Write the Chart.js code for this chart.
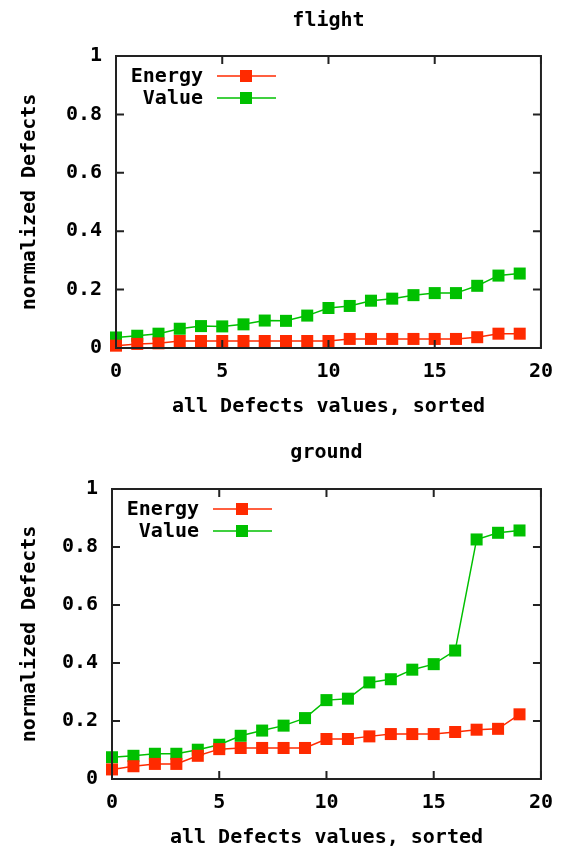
<!DOCTYPE html>
<html>
<head>
<meta charset="utf-8">
<script src="https://cdn.jsdelivr.net/npm/chart.js@4.4.0/dist/chart.umd.min.js"></script>
<style>
  html, body { margin: 0; padding: 0; background: #fff; overflow: hidden; }
  .box { position: absolute; left: 0; width: 565px; }
</style>
</head>
<body>
<div class="box" style="top:0;height:430px"><canvas id="chartFlight" width="565" height="430"></canvas></div>
<div class="box" style="top:430px;height:431px"><canvas id="chartGround" width="565" height="431"></canvas></div>
<script>
// sorted defect index, 0..19
const positions = [0, 1, 2, 3, 4, 5, 6, 7, 8, 9, 10, 11, 12, 13, 14, 15, 16, 17, 18, 19];

const flightEnergy = [0.008, 0.014, 0.016, 0.024, 0.024, 0.024, 0.024, 0.024, 0.024, 0.024,
                      0.024, 0.031, 0.031, 0.031, 0.031, 0.031, 0.031, 0.037, 0.049, 0.049];
const flightValue  = [0.036, 0.042, 0.049, 0.066, 0.075, 0.074, 0.081, 0.094, 0.093, 0.111,
                      0.137, 0.144, 0.162, 0.169, 0.181, 0.188, 0.188, 0.213, 0.248, 0.255];

const groundEnergy = [0.033, 0.044, 0.052, 0.052, 0.080, 0.103, 0.107, 0.107, 0.107, 0.107,
                      0.138, 0.138, 0.147, 0.155, 0.155, 0.155, 0.162, 0.170, 0.173, 0.223];
const groundValue  = [0.075, 0.080, 0.087, 0.087, 0.101, 0.118, 0.149, 0.167, 0.184, 0.210,
                      0.272, 0.277, 0.333, 0.344, 0.377, 0.396, 0.443, 0.826, 0.849, 0.857];

const xTicks = [0, 5, 10, 15, 20];
const yTicks = [0, 0.2, 0.4, 0.6, 0.8, 1];

const RED = "#ff2a00";
const GREEN = "#00c000";
const FONT = { family: "'DejaVu Sans Mono', monospace", size: 20, weight: "bold", lineHeight: 1.2 };

const toPoints = (ys) => positions.map((x, i) => ({ x: x, y: ys[i] }));

// box around the plot with inward ticks on all four sides
const framePlugin = {
    id: "frame",
    afterDatasetsDraw(chart) {
        const { ctx, chartArea: a, scales } = chart;
        const len = 8;
        ctx.save();
        ctx.strokeStyle = "#222";
        ctx.lineWidth = 2;
        ctx.strokeRect(a.left, a.top, a.right - a.left, a.bottom - a.top);
        ctx.beginPath();
        xTicks.forEach(v => {
            const px = scales.x.getPixelForValue(v);
            ctx.moveTo(px, a.bottom); ctx.lineTo(px, a.bottom - len);
            ctx.moveTo(px, a.top); ctx.lineTo(px, a.top + len);
        });
        yTicks.forEach(v => {
            const py = scales.y.getPixelForValue(v);
            ctx.moveTo(a.left, py); ctx.lineTo(a.left + len, py);
            ctx.moveTo(a.right, py); ctx.lineTo(a.right - len, py);
        });
        ctx.stroke();
        ctx.restore();
    }
};

// key in the upper left: label right-aligned, then line sample with marker
const keyPlugin = {
    id: "key",
    afterDraw(chart) {
        const { ctx, chartArea: a } = chart;
        ctx.save();
        ctx.font = "bold 20px 'DejaVu Sans Mono', monospace";
        ctx.textAlign = "right";
        ctx.textBaseline = "middle";
        chart.data.datasets.forEach((ds, i) => {
            const y = a.top + 20 + i * 22;
            ctx.fillStyle = "#000";
            ctx.fillText(ds.label, a.left + 87, y + 1);
            ctx.strokeStyle = ds.borderColor;
            ctx.lineWidth = 1.5;
            ctx.beginPath();
            ctx.moveTo(a.left + 101, y);
            ctx.lineTo(a.left + 160, y);
            ctx.stroke();
            ctx.fillStyle = ds.backgroundColor;
            ctx.fillRect(a.left + 124, y - 6, 12, 12);
        });
        ctx.restore();
    }
};

function makeChart(id, title, energy, value, dims) {
    const el = document.getElementById(id).getContext("2d");
    return new Chart(el, {
        type: "line",
        data: {
            datasets: [
                {
                    label: "Energy",
                    data: toPoints(energy),
                    borderColor: RED,
                    backgroundColor: RED,
                    borderWidth: 1.5,
                    pointStyle: "rect",
                    pointRadius: 8.5,
                    pointBorderWidth: 0,
                    clip: false
                },
                {
                    label: "Value",
                    data: toPoints(value),
                    borderColor: GREEN,
                    backgroundColor: GREEN,
                    borderWidth: 1.5,
                    pointStyle: "rect",
                    pointRadius: 8.5,
                    pointBorderWidth: 0,
                    clip: false
                }
            ]
        },
        options: {
            responsive: false,
            animation: false,
            events: [],
            layout: { padding: { left: 0, right: dims.right, top: 0, bottom: 0 } },
            plugins: {
                legend: { display: false },
                tooltip: { enabled: false },
                title: {
                    display: true,
                    fullSize: false,
                    text: title,
                    color: "#000",
                    font: FONT,
                    padding: { top: dims.titleTop, bottom: dims.titleBottom }
                }
            },
            scales: {
                x: {
                    type: "linear",
                    min: 0,
                    max: 20,
                    afterBuildTicks: (s) => { s.ticks = xTicks.map(v => ({ value: v })); },
                    afterFit: (s) => { s.height = 82; },
                    grid: { display: false, drawTicks: false },
                    border: { display: false },
                    ticks: { color: "#000", font: FONT, padding: 12, maxRotation: 0 },
                    title: {
                        display: true,
                        text: "all Defects values, sorted",
                        color: "#000",
                        font: FONT,
                        padding: { top: 0, bottom: 11 }
                    }
                },
                y: {
                    min: 0,
                    max: 1,
                    afterBuildTicks: (s) => { s.ticks = yTicks.map(v => ({ value: v })); },
                    afterFit: (s) => { s.width = dims.left; },
                    grid: { display: false, drawTicks: false },
                    border: { display: false },
                    ticks: {
                        color: "#000",
                        font: FONT,
                        padding: 14,
                        callback: (v) => String(+v.toFixed(1))
                    },
                    title: {
                        display: true,
                        text: "normalized Defects",
                        color: "#000",
                        font: FONT,
                        padding: { top: 18, bottom: 0 }
                    }
                }
            }
        },
        plugins: [framePlugin, keyPlugin]
    });
}

makeChart("chartFlight", "flight", flightEnergy, flightValue,
    { left: 116, right: 20, titleTop: 9, titleBottom: 23 });
makeChart("chartGround", "ground", groundEnergy, groundValue,
    { left: 112, right: 24, titleTop: 11, titleBottom: 24 });
</script>
</body>
</html>
